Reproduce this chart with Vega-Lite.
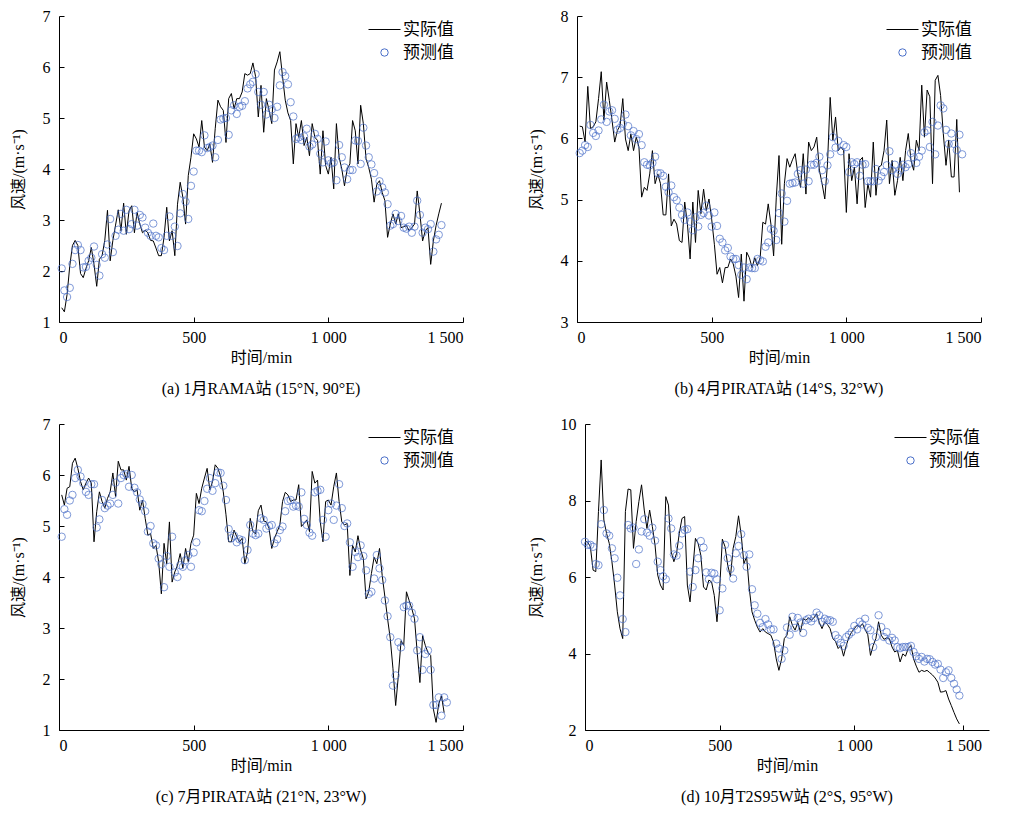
{
  "$schema": "https://vega.github.io/schema/vega-lite/v6.json",
  "padding": {"left": 10, "top": 8, "right": 5, "bottom": 5},
  "background": "white",
  "config": {
    "view": {"stroke": null},
    "font": "Liberation Serif, Noto Sans CJK SC",
    "axis": {
      "grid": false, "domainColor": "black", "domainWidth": 1, "tickColor": "black", "tickWidth": 1,
      "tickSize": -5, "labelColor": "black", "titleColor": "black",
      "labelFont": "Liberation Serif", "labelFontSize": 16,
      "titleFont": "Liberation Serif, Noto Sans CJK SC", "titleFontSize": 16, "titleFontWeight": "normal"
    },
    "axisX": {"labelPadding": 12, "titlePadding": 4},
    "axisY": {"labelPadding": 14, "titlePadding": 16},
    "title": {"font": "Liberation Serif, Noto Sans CJK SC", "fontSize": 16, "fontWeight": "normal", "color": "black", "orient": "bottom", "offset": 16},
    "legend": {
      "title": null, "labelFont": "Noto Sans CJK SC", "labelFontSize": 17, "labelColor": "black",
      "labelOffset": 10, "rowPadding": 5, "symbolSize": 55, "symbolStrokeWidth": 1
    }
  },
  "datasets": {
    "a": [
      {"t":10,"obs":1.28,"pred":2.05},{"t":20,"obs":1.2,"pred":1.62},{"t":30,"obs":1.54,"pred":1.49},{"t":40,"obs":2.1,"pred":1.67},{"t":50,"obs":2.5,"pred":2.14},{"t":60,"obs":2.6,"pred":2.41},{"t":70,"obs":2.5,"pred":2.51},{"t":80,"obs":1.95,"pred":2.41},{"t":90,"obs":1.87,"pred":2.07},{"t":100,"obs":2.05,"pred":2.08},
      {"t":110,"obs":2.2,"pred":2.2},{"t":120,"obs":2.46,"pred":2.26},{"t":130,"obs":2.13,"pred":2.48},{"t":140,"obs":1.7,"pred":2.12},{"t":150,"obs":2.23,"pred":1.91},{"t":160,"obs":2.3,"pred":2.33},{"t":170,"obs":2.6,"pred":2.26},{"t":180,"obs":3.19,"pred":2.52},{"t":190,"obs":2.2,"pred":3.02},{"t":200,"obs":2.6,"pred":2.37},
      {"t":210,"obs":2.9,"pred":2.69},{"t":220,"obs":3.2,"pred":2.81},{"t":230,"obs":2.79,"pred":3.12},{"t":240,"obs":3.33,"pred":2.79},{"t":250,"obs":2.72,"pred":3.2},{"t":260,"obs":3.18,"pred":2.82},{"t":270,"obs":3.28,"pred":2.92},{"t":280,"obs":2.75,"pred":3.2},{"t":290,"obs":3.15,"pred":2.89},{"t":300,"obs":2.92,"pred":3.1},
      {"t":310,"obs":2.75,"pred":3.05},{"t":320,"obs":2.8,"pred":2.85},{"t":330,"obs":2.75,"pred":2.75},{"t":340,"obs":2.6,"pred":2.69},{"t":350,"obs":2.59,"pred":2.93},{"t":360,"obs":2.45,"pred":2.69},{"t":370,"obs":2.3,"pred":2.66},{"t":380,"obs":2.3,"pred":2.45},{"t":390,"obs":2.66,"pred":2.41},{"t":400,"obs":3.25,"pred":2.69},
      {"t":410,"obs":2.59,"pred":3.07},{"t":420,"obs":2.79,"pred":2.69},{"t":430,"obs":2.3,"pred":2.87},{"t":440,"obs":3.31,"pred":2.49},{"t":450,"obs":3.74,"pred":3.13},{"t":460,"obs":3.44,"pred":3.51},{"t":470,"obs":2.92,"pred":3.36},{"t":480,"obs":3.87,"pred":3.02},{"t":490,"obs":4.23,"pred":3.67},{"t":500,"obs":4.69,"pred":3.95},
      {"t":510,"obs":4.59,"pred":4.36},{"t":520,"obs":4.43,"pred":4.36},{"t":530,"obs":4.95,"pred":4.33},{"t":540,"obs":4.43,"pred":4.66},{"t":550,"obs":4.36,"pred":4.41},{"t":560,"obs":4.49,"pred":4.43},{"t":570,"obs":4.13,"pred":4.46},{"t":580,"obs":4.79,"pred":4.23},{"t":590,"obs":5.35,"pred":4.57},{"t":600,"obs":5.22,"pred":4.97},
      {"t":610,"obs":5.15,"pred":4.99},{"t":620,"obs":4.52,"pred":5.0},{"t":630,"obs":5.38,"pred":4.67},{"t":640,"obs":5.48,"pred":5.15},{"t":650,"obs":5.18,"pred":5.25},{"t":660,"obs":5.38,"pred":5.08},{"t":670,"obs":5.38,"pred":5.22},{"t":680,"obs":5.51,"pred":5.24},{"t":690,"obs":5.87,"pred":5.33},{"t":700,"obs":5.84,"pred":5.58},
      {"t":710,"obs":5.87,"pred":5.66},{"t":720,"obs":6.08,"pred":5.71},{"t":730,"obs":5.81,"pred":5.86},{"t":740,"obs":5.02,"pred":5.51},{"t":750,"obs":5.64,"pred":5.26},{"t":760,"obs":4.72,"pred":5.51},{"t":770,"obs":5.38,"pred":5.07},{"t":780,"obs":5.15,"pred":5.26},{"t":790,"obs":4.89,"pred":5.17},{"t":800,"obs":5.94,"pred":5.0},
      {"t":810,"obs":6.1,"pred":5.22},{"t":820,"obs":6.3,"pred":5.64},{"t":830,"obs":5.81,"pred":5.9},{"t":840,"obs":5.35,"pred":5.82},{"t":850,"obs":5.1,"pred":5.66},{"t":860,"obs":4.95,"pred":5.31},{"t":870,"obs":4.1,"pred":5.03},{"t":880,"obs":4.89,"pred":4.59},{"t":890,"obs":4.62,"pred":4.62},{"t":900,"obs":4.95,"pred":4.57},
      {"t":910,"obs":4.46,"pred":4.64},{"t":920,"obs":4.62,"pred":4.79},{"t":930,"obs":4.26,"pred":4.44},{"t":940,"obs":4.89,"pred":4.48},{"t":950,"obs":4.62,"pred":4.69},{"t":960,"obs":4.56,"pred":4.59},{"t":970,"obs":3.9,"pred":4.3},{"t":980,"obs":4.75,"pred":4.13},{"t":990,"obs":4.07,"pred":4.54},{"t":1000,"obs":3.9,"pred":4.17},
      {"t":1010,"obs":4.23,"pred":4.11},{"t":1020,"obs":3.61,"pred":4.13},{"t":1030,"obs":4.89,"pred":3.78},{"t":1040,"obs":4.23,"pred":4.47},{"t":1050,"obs":4.0,"pred":4.23},{"t":1060,"obs":3.67,"pred":4.03},{"t":1070,"obs":4.0,"pred":3.8},{"t":1080,"obs":4.1,"pred":3.98},{"t":1090,"obs":4.95,"pred":3.98},{"t":1100,"obs":4.75,"pred":4.56},
      {"t":1110,"obs":4.1,"pred":4.55},{"t":1120,"obs":5.25,"pred":4.1},{"t":1130,"obs":4.89,"pred":4.81},{"t":1140,"obs":4.2,"pred":4.46},{"t":1150,"obs":4.03,"pred":4.23},{"t":1160,"obs":3.8,"pred":4.09},{"t":1170,"obs":3.35,"pred":3.92},{"t":1180,"obs":3.7,"pred":3.56},{"t":1190,"obs":3.77,"pred":3.76},{"t":1200,"obs":3.54,"pred":3.64},
      {"t":1210,"obs":3.38,"pred":3.54},{"t":1220,"obs":2.66,"pred":3.31},{"t":1230,"obs":2.92,"pred":2.89},{"t":1240,"obs":3.12,"pred":2.92},{"t":1250,"obs":2.92,"pred":3.12},{"t":1260,"obs":3.12,"pred":2.98},{"t":1270,"obs":2.85,"pred":3.08},{"t":1280,"obs":2.87,"pred":2.85},{"t":1290,"obs":2.89,"pred":2.83},{"t":1300,"obs":2.79,"pred":2.87},
      {"t":1310,"obs":2.85,"pred":2.75},{"t":1320,"obs":2.92,"pred":2.87},{"t":1330,"obs":3.57,"pred":3.38},{"t":1340,"obs":3.12,"pred":3.1},{"t":1350,"obs":2.59,"pred":2.75},{"t":1360,"obs":2.79,"pred":2.85},{"t":1370,"obs":2.85,"pred":2.82},{"t":1380,"obs":2.13,"pred":2.92},{"t":1390,"obs":2.59,"pred":2.38},{"t":1400,"obs":2.89,"pred":2.62},
      {"t":1410,"obs":3.12,"pred":2.71},{"t":1420,"obs":3.33,"pred":2.9}
    ],
    "b": [
      {"t":10,"obs":6.2,"pred":5.76},{"t":20,"obs":6.19,"pred":5.8},{"t":30,"obs":5.94,"pred":5.89},{"t":40,"obs":6.85,"pred":5.86},{"t":50,"obs":6.16,"pred":6.22},{"t":60,"obs":6.19,"pred":6.09},{"t":70,"obs":6.27,"pred":6.04},{"t":80,"obs":6.65,"pred":6.13},{"t":90,"obs":7.09,"pred":6.31},{"t":100,"obs":6.3,"pred":6.55},
      {"t":110,"obs":6.92,"pred":6.27},{"t":120,"obs":6.62,"pred":6.44},{"t":130,"obs":6.3,"pred":6.46},{"t":140,"obs":5.94,"pred":6.32},{"t":150,"obs":6.13,"pred":6.14},{"t":160,"obs":6.21,"pred":6.17},{"t":170,"obs":6.65,"pred":6.24},{"t":180,"obs":5.99,"pred":6.39},{"t":190,"obs":5.8,"pred":6.2},{"t":200,"obs":6.07,"pred":6.05},
      {"t":210,"obs":5.8,"pred":6.12},{"t":220,"obs":6.02,"pred":5.99},{"t":230,"obs":5.86,"pred":6.07},{"t":240,"obs":5.04,"pred":5.89},{"t":250,"obs":5.2,"pred":5.61},{"t":260,"obs":5.15,"pred":5.57},{"t":270,"obs":5.42,"pred":5.56},{"t":280,"obs":5.8,"pred":5.6},{"t":290,"obs":5.26,"pred":5.7},{"t":300,"obs":5.42,"pred":5.43},
      {"t":310,"obs":5.26,"pred":5.43},{"t":320,"obs":4.75,"pred":5.39},{"t":330,"obs":4.75,"pred":5.21},{"t":340,"obs":5.42,"pred":5.12},{"t":350,"obs":4.57,"pred":5.23},{"t":360,"obs":4.68,"pred":5.04},{"t":370,"obs":4.6,"pred":4.99},{"t":380,"obs":4.33,"pred":4.87},{"t":390,"obs":4.3,"pred":4.75},{"t":400,"obs":4.96,"pred":4.67},
      {"t":410,"obs":4.6,"pred":4.79},{"t":420,"obs":4.03,"pred":4.64},{"t":430,"obs":4.96,"pred":4.5},{"t":440,"obs":4.3,"pred":4.71},{"t":450,"obs":5.15,"pred":4.56},{"t":460,"obs":4.77,"pred":4.75},{"t":470,"obs":5.17,"pred":4.78},{"t":480,"obs":4.82,"pred":4.9},{"t":490,"obs":5.01,"pred":4.74},{"t":500,"obs":4.68,"pred":4.56},
      {"t":510,"obs":4.27,"pred":4.79},{"t":520,"obs":3.78,"pred":4.57},{"t":530,"obs":3.89,"pred":4.36},{"t":540,"obs":3.64,"pred":4.3},{"t":550,"obs":3.89,"pred":4.17},{"t":560,"obs":3.89,"pred":4.21},{"t":570,"obs":4.03,"pred":4.07},{"t":580,"obs":3.95,"pred":4.03},{"t":590,"obs":3.75,"pred":4.03},{"t":600,"obs":3.4,"pred":3.93},
      {"t":610,"obs":4.11,"pred":3.77},{"t":620,"obs":3.34,"pred":3.89},{"t":630,"obs":4.14,"pred":3.7},{"t":640,"obs":4.05,"pred":3.89},{"t":650,"obs":3.89,"pred":3.88},{"t":660,"obs":4.05,"pred":3.88},{"t":670,"obs":3.92,"pred":4.03},{"t":680,"obs":4.05,"pred":4.01},{"t":690,"obs":4.63,"pred":3.99},{"t":700,"obs":4.6,"pred":4.23},
      {"t":710,"obs":4.93,"pred":4.3},{"t":720,"obs":4.6,"pred":4.52},{"t":730,"obs":4.08,"pred":4.49},{"t":740,"obs":5.04,"pred":4.34},{"t":750,"obs":5.72,"pred":4.78},{"t":760,"obs":4.27,"pred":5.1},{"t":770,"obs":5.26,"pred":4.64},{"t":780,"obs":5.67,"pred":4.98},{"t":790,"obs":5.53,"pred":5.26},{"t":800,"obs":5.65,"pred":5.27},
      {"t":810,"obs":5.75,"pred":5.28},{"t":820,"obs":5.42,"pred":5.42},{"t":830,"obs":5.2,"pred":5.48},{"t":840,"obs":5.75,"pred":5.26},{"t":850,"obs":5.09,"pred":5.49},{"t":860,"obs":5.94,"pred":5.3},{"t":870,"obs":5.8,"pred":5.57},{"t":880,"obs":5.86,"pred":5.57},{"t":890,"obs":6.02,"pred":5.6},{"t":900,"obs":5.48,"pred":5.7},
      {"t":910,"obs":5.26,"pred":5.48},{"t":920,"obs":5.01,"pred":5.3},{"t":930,"obs":5.58,"pred":5.56},{"t":940,"obs":6.67,"pred":5.74},{"t":950,"obs":5.97,"pred":6.02},{"t":960,"obs":6.35,"pred":5.85},{"t":970,"obs":5.8,"pred":5.96},{"t":980,"obs":5.86,"pred":5.79},{"t":990,"obs":5.8,"pred":5.89},{"t":1000,"obs":4.79,"pred":5.86},
      {"t":1010,"obs":5.75,"pred":5.45},{"t":1020,"obs":5.31,"pred":5.61},{"t":1030,"obs":5.53,"pred":5.58},{"t":1040,"obs":4.93,"pred":5.61},{"t":1050,"obs":5.64,"pred":5.39},{"t":1060,"obs":5.69,"pred":5.57},{"t":1070,"obs":4.87,"pred":5.58},{"t":1080,"obs":5.26,"pred":5.3},{"t":1090,"obs":5.04,"pred":5.3},{"t":1100,"obs":5.94,"pred":5.3},
      {"t":1110,"obs":5.07,"pred":5.5},{"t":1120,"obs":5.53,"pred":5.31},{"t":1130,"obs":5.56,"pred":5.38},{"t":1140,"obs":5.8,"pred":5.45},{"t":1150,"obs":6.3,"pred":5.56},{"t":1160,"obs":5.26,"pred":5.79},{"t":1170,"obs":5.64,"pred":5.48},{"t":1180,"obs":5.07,"pred":5.57},{"t":1190,"obs":5.31,"pred":5.42},{"t":1200,"obs":5.69,"pred":5.48},
      {"t":1210,"obs":5.31,"pred":5.57},{"t":1220,"obs":5.8,"pred":5.53},{"t":1230,"obs":6.08,"pred":5.58},{"t":1240,"obs":5.64,"pred":5.76},{"t":1250,"obs":5.48,"pred":5.69},{"t":1260,"obs":5.97,"pred":5.6},{"t":1270,"obs":5.8,"pred":5.7},{"t":1280,"obs":6.87,"pred":5.8},{"t":1290,"obs":6.02,"pred":6.1},{"t":1300,"obs":6.79,"pred":6.13},
      {"t":1310,"obs":6.68,"pred":5.86},{"t":1320,"obs":5.26,"pred":6.27},{"t":1330,"obs":6.95,"pred":5.74},{"t":1340,"obs":7.03,"pred":6.21},{"t":1350,"obs":6.7,"pred":6.54},{"t":1360,"obs":6.08,"pred":6.49},{"t":1370,"obs":5.56,"pred":6.14},{"t":1380,"obs":5.97,"pred":5.91},{"t":1390,"obs":5.37,"pred":6.08},{"t":1400,"obs":5.37,"pred":5.91},
      {"t":1410,"obs":6.31,"pred":5.81},{"t":1420,"obs":5.12,"pred":6.06},{"t":1430,"pred":5.74}
    ],
    "c": [
      {"t":10,"obs":5.61,"pred":4.79},{"t":20,"obs":5.41,"pred":5.33},{"t":30,"obs":5.74,"pred":5.22},{"t":40,"obs":5.77,"pred":5.5},{"t":50,"obs":6.23,"pred":5.61},{"t":60,"obs":6.33,"pred":5.94},{"t":70,"obs":6.13,"pred":6.1},{"t":80,"obs":5.87,"pred":5.97},{"t":90,"obs":5.71,"pred":5.84},{"t":100,"obs":5.84,"pred":5.67},
      {"t":110,"obs":5.94,"pred":5.61},{"t":120,"obs":5.84,"pred":5.82},{"t":130,"obs":4.69,"pred":5.82},{"t":140,"obs":5.28,"pred":4.97},{"t":150,"obs":5.67,"pred":5.13},{"t":160,"obs":5.48,"pred":5.51},{"t":170,"obs":5.35,"pred":5.35},{"t":180,"obs":5.54,"pred":5.4},{"t":190,"obs":5.67,"pred":5.44},{"t":200,"obs":6.04,"pred":5.61},
      {"t":210,"obs":5.58,"pred":5.85},{"t":220,"obs":6.27,"pred":5.44},{"t":230,"obs":6.1,"pred":5.94},{"t":240,"obs":6.1,"pred":6.0},{"t":250,"obs":5.9,"pred":6.02},{"t":260,"obs":6.17,"pred":5.77},{"t":270,"obs":5.74,"pred":6.0},{"t":280,"obs":5.67,"pred":5.75},{"t":290,"obs":5.71,"pred":5.66},{"t":300,"obs":5.31,"pred":5.52},
      {"t":310,"obs":5.51,"pred":5.43},{"t":320,"obs":5.15,"pred":5.29},{"t":330,"obs":4.82,"pred":4.89},{"t":340,"obs":4.85,"pred":5.0},{"t":350,"obs":4.56,"pred":4.66},{"t":360,"obs":4.62,"pred":4.62},{"t":370,"obs":4.3,"pred":4.36},{"t":380,"obs":3.67,"pred":4.25},{"t":390,"obs":4.66,"pred":3.8},{"t":400,"obs":4.26,"pred":4.41},
      {"t":410,"obs":5.08,"pred":4.2},{"t":420,"obs":3.9,"pred":4.79},{"t":430,"obs":4.1,"pred":4.09},{"t":440,"obs":4.23,"pred":4.0},{"t":450,"obs":4.46,"pred":4.23},{"t":460,"obs":4.17,"pred":4.2},{"t":470,"obs":4.56,"pred":4.33},{"t":480,"obs":4.3,"pred":4.43},{"t":490,"obs":4.66,"pred":4.2},{"t":500,"obs":4.82,"pred":4.48},
      {"t":510,"obs":5.64,"pred":4.68},{"t":520,"obs":5.44,"pred":5.31},{"t":530,"obs":5.74,"pred":5.29},{"t":540,"obs":5.94,"pred":5.49},{"t":550,"obs":6.13,"pred":5.73},{"t":560,"obs":5.71,"pred":5.94},{"t":570,"obs":5.87,"pred":5.69},{"t":580,"obs":6.2,"pred":5.84},{"t":590,"obs":6.13,"pred":6.05},{"t":600,"obs":5.97,"pred":6.04},
      {"t":610,"obs":5.67,"pred":5.79},{"t":620,"obs":5.22,"pred":5.51},{"t":630,"obs":4.69,"pred":4.94},{"t":640,"obs":4.69,"pred":4.76},{"t":650,"obs":4.92,"pred":4.81},{"t":660,"obs":4.79,"pred":4.68},{"t":670,"obs":4.69,"pred":4.74},{"t":680,"obs":4.76,"pred":4.72},{"t":690,"obs":4.26,"pred":4.33},{"t":700,"obs":4.49,"pred":4.53},
      {"t":710,"obs":5.15,"pred":5.02},{"t":720,"obs":4.89,"pred":4.85},{"t":730,"obs":4.85,"pred":4.82},{"t":740,"obs":5.3,"pred":4.85},{"t":750,"obs":5.41,"pred":5.15},{"t":760,"obs":5.1,"pred":5.12},{"t":770,"obs":5.08,"pred":4.95},{"t":780,"obs":4.95,"pred":5.0},{"t":790,"obs":4.56,"pred":5.02},{"t":800,"obs":4.76,"pred":4.66},
      {"t":810,"obs":4.89,"pred":4.74},{"t":820,"obs":5.02,"pred":4.92},{"t":830,"obs":5.48,"pred":4.99},{"t":840,"obs":5.66,"pred":5.29},{"t":850,"obs":5.61,"pred":5.49},{"t":860,"obs":5.48,"pred":5.51},{"t":870,"obs":5.51,"pred":5.38},{"t":880,"obs":5.51,"pred":5.4},{"t":890,"obs":5.81,"pred":5.38},{"t":900,"obs":4.99,"pred":5.66},
      {"t":910,"obs":5.05,"pred":5.14},{"t":920,"obs":5.12,"pred":5.02},{"t":930,"obs":4.89,"pred":4.87},{"t":940,"obs":6.07,"pred":4.81},{"t":950,"obs":5.84,"pred":5.66},{"t":960,"obs":5.9,"pred":5.69},{"t":970,"obs":5.08,"pred":5.71},{"t":980,"obs":4.69,"pred":5.12},{"t":990,"obs":5.48,"pred":4.79},{"t":1000,"obs":5.51,"pred":5.31},
      {"t":1010,"obs":5.41,"pred":5.44},{"t":1020,"obs":5.77,"pred":5.12},{"t":1030,"obs":6.04,"pred":5.4},{"t":1040,"obs":5.48,"pred":5.82},{"t":1050,"obs":5.08,"pred":5.35},{"t":1060,"obs":5.02,"pred":5.0},{"t":1070,"obs":5.05,"pred":5.05},{"t":1080,"obs":4.03,"pred":4.68},{"t":1090,"obs":4.62,"pred":4.2},{"t":1100,"obs":4.49,"pred":4.49},
      {"t":1110,"obs":4.81,"pred":4.39},{"t":1120,"obs":4.53,"pred":4.62},{"t":1130,"obs":4.36,"pred":4.41},{"t":1140,"obs":3.57,"pred":4.13},{"t":1150,"obs":3.71,"pred":3.67},{"t":1160,"obs":4.07,"pred":3.71},{"t":1170,"obs":4.39,"pred":3.97},{"t":1180,"obs":4.26,"pred":4.43},{"t":1190,"obs":4.56,"pred":4.17},{"t":1200,"obs":4.03,"pred":3.94},
      {"t":1210,"obs":3.61,"pred":3.54},{"t":1220,"obs":3.18,"pred":3.23},{"t":1230,"obs":2.79,"pred":2.82},{"t":1240,"obs":2.2,"pred":1.87},{"t":1250,"obs":1.48,"pred":2.07},{"t":1260,"obs":2.07,"pred":2.72},{"t":1270,"obs":2.75,"pred":2.62},{"t":1280,"obs":2.66,"pred":3.41},{"t":1290,"obs":3.71,"pred":3.44},{"t":1300,"obs":3.54,"pred":3.44},
      {"t":1310,"obs":3.38,"pred":3.3},{"t":1320,"obs":3.18,"pred":3.18},{"t":1330,"obs":2.52,"pred":2.56},{"t":1340,"obs":1.93,"pred":2.82},{"t":1350,"obs":2.85,"pred":2.18},{"t":1360,"obs":2.66,"pred":2.49},{"t":1370,"obs":2.52,"pred":2.56},{"t":1380,"obs":2.46,"pred":2.18},{"t":1390,"obs":1.41,"pred":1.49},{"t":1400,"obs":1.15,"pred":1.49},
      {"t":1410,"obs":1.51,"pred":1.64},{"t":1420,"obs":1.67,"pred":1.28},{"t":1430,"obs":1.34,"pred":1.64},{"t":1440,"pred":1.54}
    ],
    "d": [
      {"t":0,"obs":6.94,"pred":6.92},{"t":10,"obs":6.91,"pred":6.84},{"t":20,"obs":6.79,"pred":6.84},{"t":30,"obs":6.18,"pred":6.79},{"t":40,"obs":6.14,"pred":6.34},{"t":50,"obs":7.71,"pred":6.31},{"t":60,"obs":9.06,"pred":7.38},{"t":70,"obs":7.49,"pred":7.75},{"t":80,"obs":7.14,"pred":7.14},{"t":90,"obs":6.88,"pred":7.08},
      {"t":100,"obs":6.4,"pred":6.75},{"t":110,"obs":5.79,"pred":6.49},{"t":120,"obs":5.09,"pred":5.98},{"t":130,"obs":4.65,"pred":5.52},{"t":140,"obs":4.39,"pred":4.9},{"t":150,"obs":7.71,"pred":4.56},{"t":160,"obs":8.3,"pred":7.36},{"t":170,"obs":8.28,"pred":7.27},{"t":180,"obs":6.75,"pred":7.29},{"t":190,"obs":7.45,"pred":6.34},
      {"t":200,"obs":7.97,"pred":6.72},{"t":210,"obs":8.41,"pred":7.19},{"t":220,"obs":7.75,"pred":7.51},{"t":230,"obs":7.27,"pred":7.16},{"t":240,"obs":7.75,"pred":7.08},{"t":250,"obs":7.32,"pred":7.29},{"t":260,"obs":6.84,"pred":6.95},{"t":270,"obs":6.05,"pred":6.4},{"t":280,"obs":5.79,"pred":6.18},{"t":290,"obs":5.66,"pred":6.02},
      {"t":300,"obs":8.1,"pred":5.94},{"t":310,"obs":7.88,"pred":7.53},{"t":320,"obs":6.66,"pred":7.27},{"t":330,"obs":6.4,"pred":6.59},{"t":340,"obs":6.62,"pred":6.56},{"t":350,"obs":7.14,"pred":6.82},{"t":360,"obs":7.53,"pred":7.14},{"t":370,"obs":7.58,"pred":7.23},{"t":380,"obs":5.79,"pred":7.25},{"t":390,"obs":5.35,"pred":6.14},
      {"t":400,"obs":6.18,"pred":5.74},{"t":410,"obs":7.01,"pred":6.18},{"t":420,"obs":6.88,"pred":6.49},{"t":430,"obs":6.57,"pred":6.94},{"t":440,"obs":5.74,"pred":6.77},{"t":450,"obs":5.66,"pred":6.12},{"t":460,"obs":5.92,"pred":5.94},{"t":470,"obs":5.87,"pred":6.11},{"t":480,"obs":5.52,"pred":6.09},{"t":490,"obs":4.83,"pred":5.94},
      {"t":500,"obs":5.7,"pred":5.13},{"t":510,"obs":6.99,"pred":5.7},{"t":520,"obs":6.79,"pred":6.84},{"t":530,"obs":6.31,"pred":6.49},{"t":540,"obs":6.01,"pred":6.21},{"t":550,"obs":6.75,"pred":5.96},{"t":560,"obs":7.06,"pred":6.62},{"t":570,"obs":7.6,"pred":6.81},{"t":580,"obs":7.1,"pred":7.12},{"t":590,"obs":6.35,"pred":6.57},
      {"t":600,"obs":6.53,"pred":6.27},{"t":610,"obs":5.7,"pred":6.59},{"t":620,"obs":5.09,"pred":5.68},{"t":630,"obs":4.87,"pred":5.26},{"t":640,"obs":4.69,"pred":5.04},{"t":650,"obs":4.56,"pred":4.8},{"t":660,"obs":4.65,"pred":4.69},{"t":670,"obs":4.56,"pred":4.9},{"t":680,"obs":4.52,"pred":4.76},{"t":690,"obs":4.48,"pred":4.63},
      {"t":700,"obs":4.3,"pred":4.63},{"t":710,"obs":3.86,"pred":4.26},{"t":720,"obs":3.56,"pred":4.13},{"t":730,"obs":3.86,"pred":3.86},{"t":740,"obs":4.39,"pred":4.08},{"t":750,"obs":4.48,"pred":4.68},{"t":760,"obs":4.96,"pred":4.49},{"t":770,"obs":4.74,"pred":4.96},{"t":780,"obs":4.61,"pred":4.67},{"t":790,"obs":4.81,"pred":4.93},
      {"t":800,"obs":4.56,"pred":4.81},{"t":810,"obs":4.91,"pred":4.54},{"t":820,"obs":4.87,"pred":4.87},{"t":830,"obs":4.93,"pred":4.91},{"t":840,"obs":4.87,"pred":4.84},{"t":850,"obs":4.93,"pred":4.93},{"t":860,"obs":5.04,"pred":5.07},{"t":870,"obs":4.81,"pred":5.0},{"t":880,"obs":4.65,"pred":4.83},{"t":890,"obs":4.83,"pred":4.91},
      {"t":900,"obs":4.76,"pred":4.87},{"t":910,"obs":4.65,"pred":4.87},{"t":920,"obs":4.39,"pred":4.83},{"t":930,"obs":4.32,"pred":4.48},{"t":940,"obs":4.13,"pred":4.39},{"t":950,"obs":4.21,"pred":4.28},{"t":960,"obs":3.93,"pred":4.2},{"t":970,"obs":4.21,"pred":4.43},{"t":980,"obs":4.43,"pred":4.49},{"t":990,"obs":4.56,"pred":4.56},
      {"t":1000,"obs":4.65,"pred":4.72},{"t":1010,"obs":4.74,"pred":4.63},{"t":1020,"obs":4.69,"pred":4.83},{"t":1030,"obs":4.78,"pred":4.76},{"t":1040,"obs":4.63,"pred":4.91},{"t":1050,"obs":4.49,"pred":4.67},{"t":1060,"obs":3.95,"pred":4.61},{"t":1070,"obs":4.21,"pred":4.17},{"t":1080,"obs":4.39,"pred":4.43},{"t":1090,"obs":4.83,"pred":5.0},
      {"t":1100,"obs":4.48,"pred":4.69},{"t":1110,"obs":4.37,"pred":4.43},{"t":1120,"obs":4.41,"pred":4.56},{"t":1130,"obs":4.39,"pred":4.34},{"t":1140,"obs":4.17,"pred":4.41},{"t":1150,"obs":4.04,"pred":4.34},{"t":1160,"obs":4.08,"pred":4.17},{"t":1170,"obs":3.78,"pred":4.14},{"t":1180,"obs":3.99,"pred":4.17},{"t":1190,"obs":3.93,"pred":4.17},
      {"t":1200,"obs":4.13,"pred":4.17},{"t":1210,"obs":4.21,"pred":4.2},{"t":1220,"obs":3.86,"pred":4.04},{"t":1230,"obs":3.67,"pred":3.93},{"t":1240,"obs":3.51,"pred":3.86},{"t":1250,"obs":3.56,"pred":3.91},{"t":1260,"obs":3.53,"pred":3.79},{"t":1270,"obs":3.56,"pred":3.86},{"t":1280,"obs":3.5,"pred":3.85},{"t":1290,"obs":3.44,"pred":3.78},
      {"t":1300,"obs":3.36,"pred":3.71},{"t":1310,"obs":3.25,"pred":3.73},{"t":1320,"obs":2.99,"pred":3.58},{"t":1330,"obs":3.0,"pred":3.36},{"t":1340,"obs":3.03,"pred":3.51},{"t":1350,"obs":2.81,"pred":3.56},{"t":1360,"obs":2.64,"pred":3.36},{"t":1370,"obs":2.46,"pred":3.21},{"t":1380,"obs":2.29,"pred":3.06},{"t":1390,"obs":2.16,"pred":2.9}
    ]
  },
  "resolve": {"scale": {"color": "independent"}, "legend": {"color": "independent"}},
  "spacing": 19,
  "vconcat": [
    {
      "spacing": 64,
      "resolve": {"scale": {"color": "independent"}, "legend": {"color": "independent"}},
      "hconcat": [
        {
          "width": 404, "height": 306,
          "title": {"text": "(a) 1月RAMA站 (15°N, 90°E)"},
          "data": {"name": "a"},
          "transform": [{"fold": ["obs", "pred"], "as": ["s", "v"]}],
          "encoding": {
            "x": {"field": "t", "type": "quantitative", "scale": {"domain": [0, 1500], "nice": false}, "axis": {"title": "时间/min", "values": [0, 500, 1000, 1500], "labelExpr": "replace(format(datum.value, ','), ',', ' ')"}},
            "y": {"field": "v", "type": "quantitative", "scale": {"domain": [1, 7], "nice": false, "zero": false}, "axis": {"title": "风速/(m·s⁻¹)", "values": [1, 2, 3, 4, 5, 6, 7]}},
            "color": {"field": "s", "type": "nominal", "scale": {"domain": ["obs", "pred"], "range": ["black", "#4a6fc9"]},
              "legend": {"orient": "none", "legendX": 317, "legendY": 5, "labelExpr": "datum.label == 'obs' ? '实际值' : '预测值'",
                "encode": {"symbols": {"update": {"shape": {"signal": "datum.value == 'obs' ? 'stroke' : 'circle'"}, "size": {"signal": "datum.value == 'obs' ? 1024 : 55"}}}}}}
          },
          "layer": [
            {"transform": [{"filter": "datum.s == 'obs'"}], "mark": {"type": "line", "strokeWidth": 1}},
            {"transform": [{"filter": "datum.s == 'pred'"}], "mark": {"type": "point", "filled": false, "size": 55, "strokeWidth": 1}}
          ]
        },
        {
          "width": 404, "height": 306,
          "title": {"text": "(b) 4月PIRATA站 (14°S, 32°W)"},
          "data": {"name": "b"},
          "transform": [{"fold": ["obs", "pred"], "as": ["s", "v"]}],
          "encoding": {
            "x": {"field": "t", "type": "quantitative", "scale": {"domain": [0, 1500], "nice": false}, "axis": {"title": "时间/min", "values": [0, 500, 1000, 1500], "labelExpr": "replace(format(datum.value, ','), ',', ' ')"}},
            "y": {"field": "v", "type": "quantitative", "scale": {"domain": [3, 8], "nice": false, "zero": false}, "axis": {"title": "风速/(m·s⁻¹)", "values": [3, 4, 5, 6, 7, 8]}},
            "color": {"field": "s", "type": "nominal", "scale": {"domain": ["obs", "pred"], "range": ["black", "#4a6fc9"]},
              "legend": {"orient": "none", "legendX": 317, "legendY": 5, "labelExpr": "datum.label == 'obs' ? '实际值' : '预测值'",
                "encode": {"symbols": {"update": {"shape": {"signal": "datum.value == 'obs' ? 'stroke' : 'circle'"}, "size": {"signal": "datum.value == 'obs' ? 1024 : 55"}}}}}}
          },
          "layer": [
            {"transform": [{"filter": "datum.s == 'obs'"}], "mark": {"type": "line", "strokeWidth": 1}},
            {"transform": [{"filter": "datum.s == 'pred'"}], "mark": {"type": "point", "filled": false, "size": 55, "strokeWidth": 1}}
          ]
        }
      ]
    },
    {
      "spacing": 64,
      "resolve": {"scale": {"color": "independent"}, "legend": {"color": "independent"}},
      "hconcat": [
        {
          "width": 404, "height": 306,
          "title": {"text": "(c) 7月PIRATA站 (21°N, 23°W)"},
          "data": {"name": "c"},
          "transform": [{"fold": ["obs", "pred"], "as": ["s", "v"]}],
          "encoding": {
            "x": {"field": "t", "type": "quantitative", "scale": {"domain": [0, 1500], "nice": false}, "axis": {"title": "时间/min", "values": [0, 500, 1000, 1500], "labelExpr": "replace(format(datum.value, ','), ',', ' ')"}},
            "y": {"field": "v", "type": "quantitative", "scale": {"domain": [1, 7], "nice": false, "zero": false}, "axis": {"title": "风速/(m·s⁻¹)", "values": [1, 2, 3, 4, 5, 6, 7]}},
            "color": {"field": "s", "type": "nominal", "scale": {"domain": ["obs", "pred"], "range": ["black", "#4a6fc9"]},
              "legend": {"orient": "none", "legendX": 317, "legendY": 5, "labelExpr": "datum.label == 'obs' ? '实际值' : '预测值'",
                "encode": {"symbols": {"update": {"shape": {"signal": "datum.value == 'obs' ? 'stroke' : 'circle'"}, "size": {"signal": "datum.value == 'obs' ? 1024 : 55"}}}}}}
          },
          "layer": [
            {"transform": [{"filter": "datum.s == 'obs'"}], "mark": {"type": "line", "strokeWidth": 1}},
            {"transform": [{"filter": "datum.s == 'pred'"}], "mark": {"type": "point", "filled": false, "size": 55, "strokeWidth": 1}}
          ]
        },
        {
          "width": 404, "height": 306,
          "title": {"text": "(d) 10月T2S95W站 (2°S, 95°W)"},
          "data": {"name": "d"},
          "transform": [{"fold": ["obs", "pred"], "as": ["s", "v"]}],
          "encoding": {
            "x": {"field": "t", "type": "quantitative", "scale": {"domain": [0, 1500], "nice": false}, "axis": {"title": "时间/min", "values": [0, 500, 1000, 1405], "labelExpr": "datum.value > 1300 ? '1 500' : replace(format(datum.value, ','), ',', ' ')"}},
            "y": {"field": "v", "type": "quantitative", "scale": {"domain": [2, 10], "nice": false, "zero": false}, "axis": {"title": "风速/(m·s⁻¹)", "values": [2, 4, 6, 8, 10]}},
            "color": {"field": "s", "type": "nominal", "scale": {"domain": ["obs", "pred"], "range": ["black", "#4a6fc9"]},
              "legend": {"orient": "none", "legendX": 317, "legendY": 5, "labelExpr": "datum.label == 'obs' ? '实际值' : '预测值'",
                "encode": {"symbols": {"update": {"shape": {"signal": "datum.value == 'obs' ? 'stroke' : 'circle'"}, "size": {"signal": "datum.value == 'obs' ? 1024 : 55"}}}}}}
          },
          "layer": [
            {"transform": [{"filter": "datum.s == 'obs'"}], "mark": {"type": "line", "strokeWidth": 1}},
            {"transform": [{"filter": "datum.s == 'pred'"}], "mark": {"type": "point", "filled": false, "size": 55, "strokeWidth": 1}}
          ]
        }
      ]
    }
  ]
}
